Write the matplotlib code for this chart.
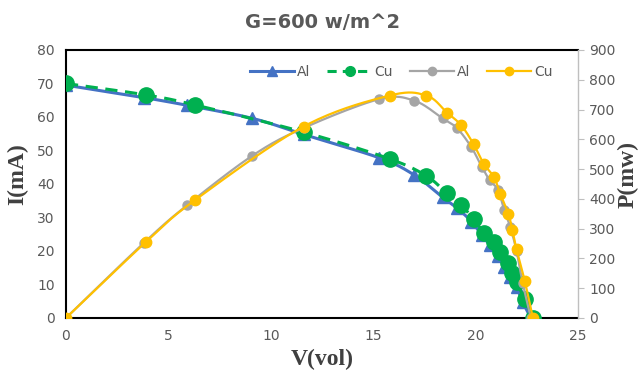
import numpy as np
import matplotlib.pyplot as plt
from matplotlib.lines import Line2D

# ====== data ======
v_al = [0, 3.8, 5.9, 9.1, 11.6, 15.3, 17.0, 18.4, 19.1, 19.8, 20.3, 20.7, 21.1, 21.4, 21.7, 22.0, 22.3, 22.7]
i_al = [69.5, 65.8, 63.5, 59.6, 54.8, 47.8, 42.7, 36.0, 32.8, 28.8, 24.8, 21.8, 18.5, 15.3, 12.3, 9.3, 4.8, 0]
p_al = [0, 252, 378, 545, 638, 735, 730, 670, 637, 573, 508, 462, 430, 362, 305, 225, 118, 0]

v_cu = [0, 3.9, 6.3, 11.6, 15.8, 17.6, 18.6, 19.3, 19.9, 20.4, 20.9, 21.2, 21.6, 21.8, 22.0, 22.4, 22.8]
i_cu = [70.0, 66.6, 63.6, 55.5, 47.5, 42.4, 37.2, 33.7, 29.5, 25.5, 22.7, 19.8, 16.3, 13.5, 10.8, 5.6, 0]
p_cu = [0, 255, 396, 643, 747, 747, 690, 647, 584, 518, 473, 418, 350, 295, 230, 125, 0]

title = "G=600 w/m^2"


def smooth(x, y, n=20):
    # Catmull-Rom style smoothing, similar to Excel's "smoothed line"
    x = np.asarray(x, float)
    y = np.asarray(y, float)
    px = np.concatenate([[2 * x[0] - x[1]], x, [2 * x[-1] - x[-2]]])
    py = np.concatenate([[2 * y[0] - y[1]], y, [2 * y[-1] - y[-2]]])
    xs, ys = [], []
    t = np.linspace(0, 1, n, endpoint=False)
    for k in range(1, len(px) - 2):
        for arr, out in ((px, xs), (py, ys)):
            p0, p1, p2, p3 = arr[k - 1], arr[k], arr[k + 1], arr[k + 2]
            c1 = p1 + (p2 - p0) / 6
            c2 = p2 - (p3 - p1) / 6
            out.extend((1 - t) ** 3 * p1 + 3 * (1 - t) ** 2 * t * c1 + 3 * (1 - t) * t ** 2 * c2 + t ** 3 * p2)
    xs.append(x[-1])
    ys.append(y[-1])
    return np.array(xs), np.array(ys)


blue = "#4472C4"
green = "#00B050"
grey = "#A5A5A5"
yellow = "#FFC000"
txt = "#595959"

fig = plt.figure(figsize=(6.38, 3.72), dpi=100)
ax = fig.add_axes([0.1034, 0.1452, 0.8025, 0.7204])
ax2 = ax.twinx()

# --- I-V curves ---
sx, sy = smooth(v_al, i_al)
ax.plot(sx, sy, color=blue, lw=2.2, zorder=2)
ax.plot(v_al, i_al, ls="none", marker="^", ms=8, color=blue, zorder=2)
sx, sy = smooth(v_cu, i_cu)
ax.plot(sx, sy, color=green, lw=2.2, ls=(0, (4, 2.5)), zorder=3)
ax.plot(v_cu, i_cu, ls="none", marker="o", ms=11, color=green, zorder=3)

# --- P-V curves ---
sx, sy = smooth(v_al, p_al)
ax2.plot(sx, sy, color=grey, lw=1.6, zorder=2)
ax2.plot(v_al, p_al, ls="none", marker="o", ms=6.5, color=grey, zorder=2)
sx, sy = smooth(v_cu, p_cu)
ax2.plot(sx, sy, color=yellow, lw=1.6, zorder=3)
ax2.plot(v_cu, p_cu, ls="none", marker="o", ms=7.5, color=yellow, zorder=3)

ax.set_xlim(0, 25)
ax.set_ylim(0, 80)
ax2.set_ylim(0, 900)
ax.set_xticks(range(0, 26, 5))
ax.set_yticks(range(0, 81, 10))
ax2.set_yticks(range(0, 901, 100))

ax.tick_params(axis="both", length=0, colors=txt, labelsize=10, pad=8)
ax2.tick_params(axis="y", length=4, color="#BFBFBF", labelcolor=txt, labelsize=10, pad=4)

for s in ["left", "bottom", "top"]:
    ax.spines[s].set_color("black")
    ax.spines[s].set_linewidth(1.5)
ax.spines["right"].set_visible(False)
for s in ["left", "bottom", "top"]:
    ax2.spines[s].set_visible(False)
ax2.spines["right"].set_color("#BFBFBF")
ax2.spines["right"].set_linewidth(1.0)

lab_font = dict(family="Liberation Serif", weight="bold", size=17, color="#404040")
ax.set_xlabel("V(vol)", va="center", **lab_font)
ax.xaxis.set_label_coords(0.5, -0.153)
ax.set_ylabel("I(mA)", va="center", **lab_font)
ax.yaxis.set_label_coords(-0.094, 0.537)
ax2.set_ylabel("P(mw)", va="center", **lab_font)
ax2.yaxis.set_label_coords(1.097, 0.537)

fig.text(0.505, 0.94, title, ha="center", va="center", fontsize=14, fontweight="bold", color=txt)

# legend
handles = [
    Line2D([], [], color=blue, lw=2.2, marker="^", ms=7),
    Line2D([], [], color=green, lw=2.2, ls=(0, (3, 2)), marker="o", ms=7),
    Line2D([], [], color=grey, lw=1.6, marker="o", ms=6),
    Line2D([], [], color=yellow, lw=1.6, marker="o", ms=6),
]
leg = ax2.legend(handles, ["Al", "Cu", "Al", "Cu"], ncol=4, frameon=False,
                 loc="upper right", bbox_to_anchor=(0.975, 0.99), fontsize=10,
                 handlelength=3.2, handletextpad=0.2, columnspacing=1.2)
for t in leg.get_texts():
    t.set_color(txt)

plt.savefig("out.png", dpi=100)
plt.close()
print("Saved to out.png")
